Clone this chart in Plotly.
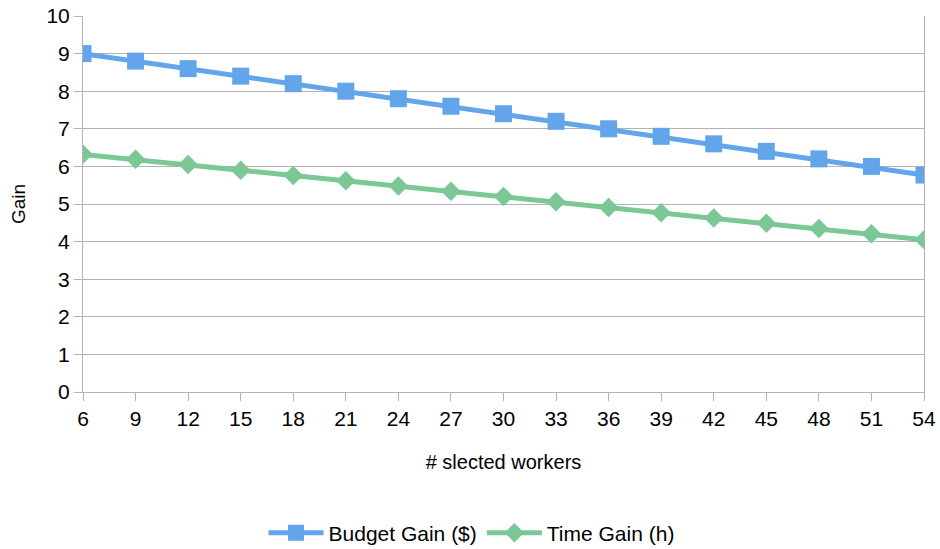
import plotly.graph_objects as go

workers = [6, 9, 12, 15, 18, 21, 24, 27, 30, 33, 36, 39, 42, 45, 48, 51, 54]
budget_gain = [9.0, 8.8, 8.6, 8.4, 8.2, 8.0, 7.8, 7.6, 7.4, 7.2, 7.0, 6.8, 6.6, 6.4, 6.2, 6.0, 5.77]
time_gain = [6.32, 6.19, 6.05, 5.9, 5.76, 5.62, 5.48, 5.34, 5.2, 5.06, 4.91, 4.77, 4.63, 4.49, 4.35, 4.21, 4.05]

blue = "#63a5ea"
green = "#7bc795"

fig = go.Figure()
fig.add_trace(go.Scatter(x=workers, y=budget_gain, name="Budget Gain ($)", mode="lines+markers",
                         line=dict(color=blue, width=5),
                         marker=dict(symbol="square", size=17, color=blue)))
fig.add_trace(go.Scatter(x=workers, y=time_gain, name="Time Gain (h)", mode="lines+markers",
                         line=dict(color=green, width=5),
                         marker=dict(symbol="diamond", size=15, color=green)))

fig.update_layout(
    width=940, height=549,
    margin=dict(l=83, r=16, t=16, b=157, autoexpand=False),
    paper_bgcolor="white", plot_bgcolor="white",
    font=dict(family="Liberation Sans, Arial, sans-serif", color="black", size=21),
    legend=dict(orientation="h", x=0.462, xanchor="center", y=-0.375, yanchor="middle",
                font=dict(size=21), traceorder="normal", itemwidth=55),
    xaxis=dict(range=[6, 54], tickvals=workers, showgrid=False, zeroline=False,
               showline=True, linecolor="#b3b3b3", linewidth=1, automargin=False,
               ticks="outside", ticklen=8, tickcolor="#b3b3b3",
               title=dict(text="# slected workers", font=dict(size=20), standoff=25),
               tickfont=dict(size=21)),
    yaxis=dict(range=[0, 10], dtick=1, showgrid=True, gridcolor="#b3b3b3", gridwidth=1,
               zeroline=False, showline=True, linecolor="#b3b3b3", linewidth=1, mirror=True,
               ticks="outside", ticklen=8, tickcolor="#b3b3b3", automargin=False,
               title=dict(text="Gain", font=dict(size=19), standoff=15),
               tickfont=dict(size=21)),
)

fig.write_html("out.html", config={"displayModeBar": False},
               post_script="document.body.style.margin='0';document.body.style.overflow='hidden';")
